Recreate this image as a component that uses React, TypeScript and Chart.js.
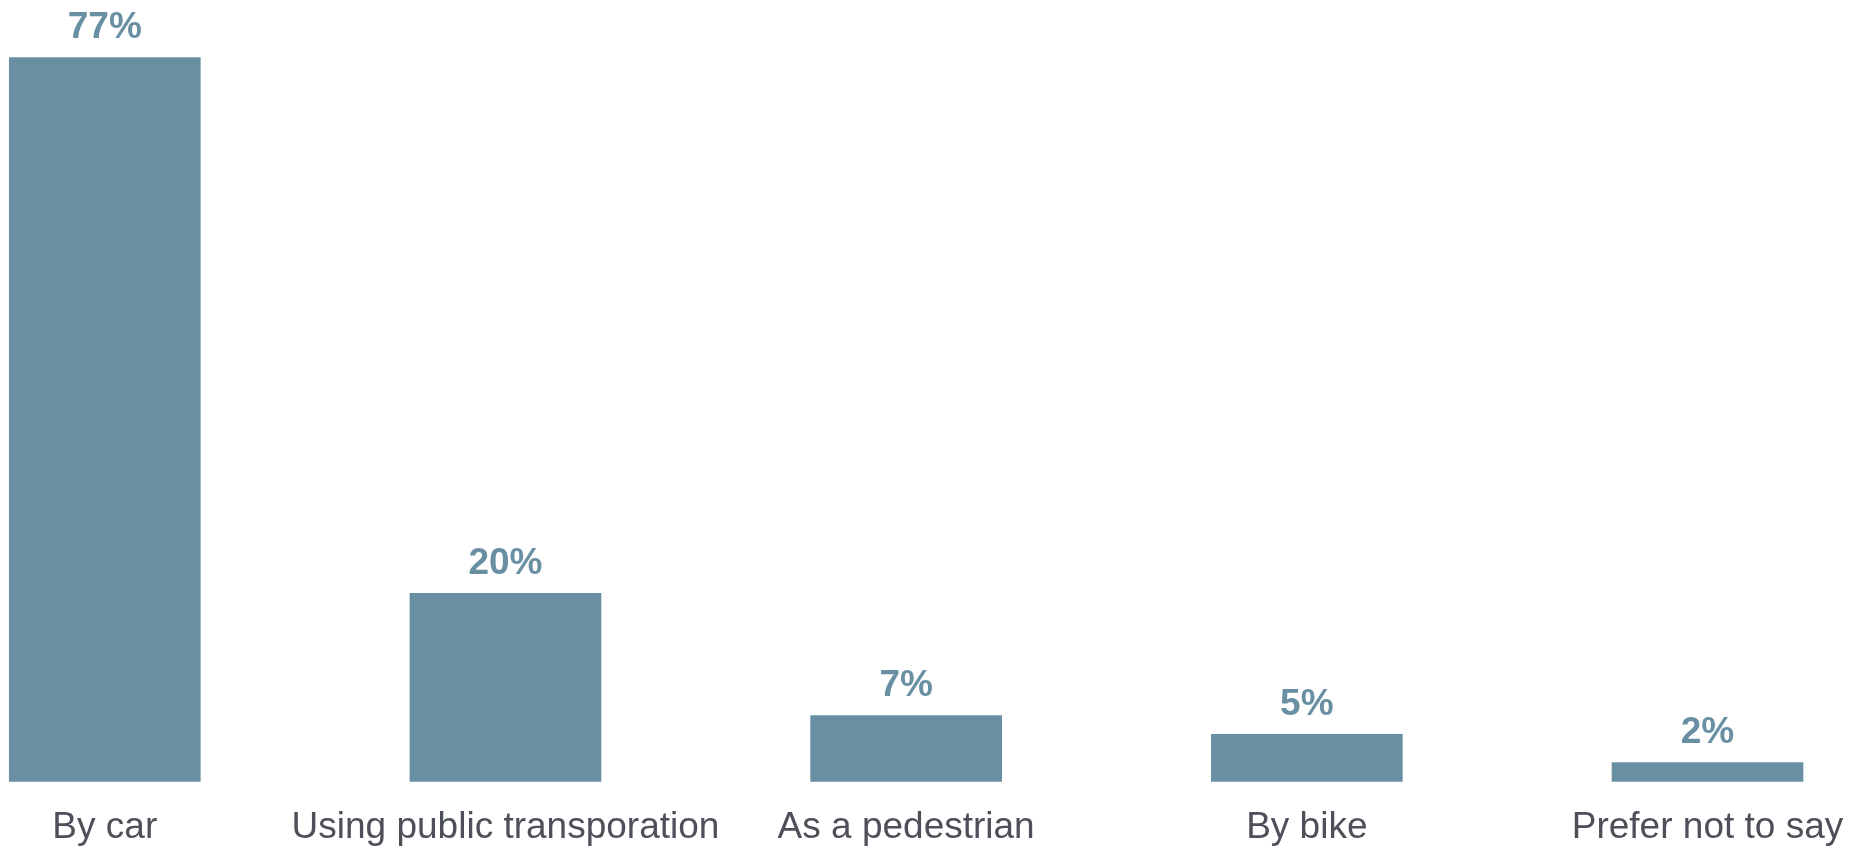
import React, { useEffect, useRef } from "react";
import { Chart, registerables } from "chart.js";

Chart.register(...registerables);

const categories = [
  "By car",
  "Using public transporation",
  "As a pedestrian",
  "By bike",
  "Prefer not to say",
];
const shares = [77, 20, 7, 5, 2];

const BAR_COLOR = "#698fa3";
const LABEL_COLOR = "#4d5058";
const FONT = "'Liberation Sans', Arial, sans-serif";

const valueLabels = {
  id: "valueLabels",
  afterDatasetsDraw(chart: any) {
    const ctx = chart.ctx;
    const meta = chart.getDatasetMeta(0);
    const data = chart.data.datasets[0].data as number[];
    ctx.save();
    ctx.font = `bold 37px ${FONT}`;
    ctx.fillStyle = BAR_COLOR;
    ctx.textAlign = "center";
    ctx.textBaseline = "alphabetic";
    meta.data.forEach((el: any, i: number) => {
      ctx.fillText(`${data[i]}%`, el.x, el.y - 19.6);
    });
    ctx.restore();
  },
};

export default function App() {
  const ref = useRef<HTMLCanvasElement | null>(null);

  useEffect(() => {
    if (!ref.current) return;
    const chart = new Chart(ref.current, {
      type: "bar",
      data: {
        labels: categories,
        datasets: [
          {
            data: shares,
            backgroundColor: BAR_COLOR,
            borderWidth: 0,
            barThickness: 191,
            clip: false as any,
          },
        ],
      },
      options: {
        animation: false,
        responsive: true,
        maintainAspectRatio: false,
        layout: { padding: { left: 104.8, right: 152.5, top: 29.3, bottom: 0 } },
        plugins: {
          legend: { display: false },
          tooltip: { enabled: false },
          title: { display: false },
        },
        scales: {
          x: {
            offset: false,
            grid: { display: false, drawTicks: false },
            border: { display: false },
            ticks: {
              color: LABEL_COLOR,
              font: { family: FONT, size: 37, lineHeight: 2.5 },
              padding: 0,
              autoSkip: false,
              maxRotation: 0,
              minRotation: 0,
            },
            afterFit: (scale: any) => {
              scale.height = 65.7;
            },
          },
          y: {
            display: false,
            min: 0,
            max: 80,
          },
        },
      },
      plugins: [valueLabels],
    });
    return () => chart.destroy();
  }, []);

  return (
    <div style={{ position: "fixed", left: 0, top: 0, width: 1860, height: 847, background: "#fff" }}>
      <canvas ref={ref} />
    </div>
  );
}
